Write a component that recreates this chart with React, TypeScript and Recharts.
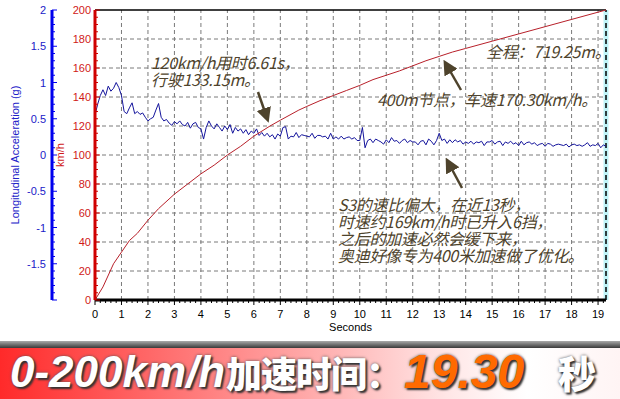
import React from "react";
import { ComposedChart, Line, XAxis, YAxis, ReferenceLine } from "recharts";

// speed trace (km/h)
const speedSeconds = [
  0, 0.3, 0.7, 1.0, 1.3, 1.6, 2.0, 2.4, 3.0, 3.5, 4.0, 4.5, 5.0, 5.5, 6.0, 6.61,
  7.0, 7.7, 8.0, 8.5, 9.0, 9.5, 10, 10.5, 11, 11.5, 12, 12.5, 13, 13.5, 14, 15,
  16, 17, 18, 19, 19.3,
];
const speedKmh = [
  0, 9, 25, 33, 41, 46, 55, 63, 73, 80, 87, 93, 100, 106, 113, 120,
  124, 131, 133.5, 137.5, 141, 144.5, 148, 152, 155, 158, 161.5, 165, 168, 171, 173.5, 178.5,
  183.5, 188.5, 193.5, 198.5, 200,
];

// longitudinal acceleration (g), one reading every 0.1 s
const accelStep = 0.1;
const accelG = [
  0.55, 0.7, 0.82, 0.9, 0.82, 0.95, 0.88, 0.92, 1.0, 0.93,
  0.82, 0.6, 0.57, 0.65, 0.72, 0.57, 0.6, 0.56, 0.58, 0.52,
  0.47, 0.5, 0.52, 0.62, 0.71, 0.52, 0.47, 0.49, 0.44, 0.41,
  0.46, 0.43, 0.47, 0.42, 0.4, 0.45, 0.37, 0.43, 0.45, 0.38,
  0.36, 0.22, 0.38, 0.47, 0.4, 0.36, 0.43, 0.38, 0.33, 0.4,
  0.35, 0.42, 0.3, 0.38, 0.33, 0.36, 0.3, 0.35, 0.28, 0.33,
  0.3, 0.36, 0.27, 0.31, 0.26, 0.3, 0.25, 0.28, 0.22, 0.29,
  0.26, 0.38, 0.39, 0.22, 0.26, 0.25, 0.31, 0.24, 0.28, 0.27,
  0.26, 0.25, 0.3, 0.23, 0.27, 0.27, 0.25, 0.26, 0.22, 0.3,
  0.22, 0.25, 0.22, 0.26, 0.22, 0.24, 0.25, 0.22, 0.24, 0.2,
  0.2, 0.38, 0.1, 0.2, 0.22, 0.17, 0.22, 0.2, 0.18, 0.15,
  0.21, 0.17, 0.24, 0.19, 0.2, 0.16, 0.2, 0.22, 0.17, 0.2,
  0.18, 0.18, 0.14, 0.19, 0.2, 0.14, 0.22, 0.19, 0.14, 0.2,
  0.3, 0.2, 0.22, 0.16, 0.21, 0.17, 0.21, 0.18, 0.2, 0.15,
  0.18, 0.16, 0.19, 0.15, 0.18, 0.17, 0.19, 0.13, 0.18, 0.18,
  0.2, 0.15, 0.18, 0.19, 0.13, 0.18, 0.16, 0.19, 0.15, 0.17,
  0.13, 0.19, 0.14, 0.17, 0.18, 0.15, 0.17, 0.13, 0.15, 0.16,
  0.12, 0.16, 0.15, 0.12, 0.14, 0.15, 0.14, 0.13, 0.15, 0.11,
  0.14, 0.15, 0.13, 0.14, 0.12, 0.14, 0.17, 0.12, 0.14, 0.13,
  0.16, 0.1, 0.14, 0.12,
];

const secondTicks = [0, 1, 2, 3, 4, 5, 6, 7, 8, 9, 10, 11, 12, 13, 14, 15, 16, 17, 18, 19];
const kmhTicks = [0, 20, 40, 60, 80, 100, 120, 140, 160, 180, 200];
const gTicks = [-2, -1.5, -1, -0.5, 0, 0.5, 1, 1.5, 2];
const maxSeconds = 19.3;

const speedData = speedSeconds.map((t, i) => ({ t, kmh: speedKmh[i] }));
const accelData = accelG.map((g, i) => ({ t: +(i * accelStep).toFixed(1), g }));

// minor tick positions (axis decoration only)
const minorSeconds = Array.from({ length: 97 }, (_, i) => +(i * 0.2).toFixed(1));
const minorKmh = Array.from({ length: 41 }, (_, i) => i * 5);
const minorG = Array.from({ length: 41 }, (_, i) => +(-2 + i * 0.1).toFixed(1));

// axis ids sort in stacking order: first one sits next to the plot
const KMH = "a_kmh";
const ACC = "b_g";

const tickFont = "'Liberation Sans', Arial, sans-serif";
const noteFont = "'Noto Sans CJK SC', sans-serif";
const noteColor = "#4e432c";

const near = (a: number, b: number) => Math.abs(a - b) < 0.001;

const SecondTick = ({ x, y, payload }: any) => {
  const v = payload.value;
  const major = secondTicks.some((s) => near(s, v));
  return (
    <g>
      <line x1={x} x2={x} y1={y} y2={y + (major ? 5 : 3)} stroke="#000" />
      {major && (
        <text x={x} y={y + 18} textAnchor="middle" fontSize={11} fontFamily={tickFont} fill="#000">
          {Math.round(v)}
        </text>
      )}
    </g>
  );
};

const KmhTick = ({ x, y, payload }: any) => {
  const v = payload.value;
  const major = kmhTicks.includes(v);
  return (
    <g>
      <line x1={x} x2={x + (major ? 5 : 3)} y1={y} y2={y} stroke="#cc0000" />
      {major && (
        <text x={x - 4} y={y + 4} textAnchor="end" fontSize={11} fontFamily={tickFont} fill="#d01818">
          {v}
        </text>
      )}
    </g>
  );
};

const GTick = ({ x, y, payload }: any) => {
  const v = payload.value;
  const major = gTicks.some((s) => near(s, v));
  const showLabel = major && !near(v, -2);
  return (
    <g>
      <line x1={x} x2={x + (major ? 5 : 3)} y1={y} y2={y} stroke="#0000ee" />
      {showLabel && (
        <text x={x - 6} y={y + 4} textAnchor="end" fontSize={11} fontFamily={tickFont} fill="#2020c8">
          {v}
        </text>
      )}
    </g>
  );
};

const Arrow = ({ x1, y1, x2, y2 }: { x1: number; y1: number; x2: number; y2: number }) => (
  <line x1={x1} y1={y1} x2={x2} y2={y2} stroke={noteColor} strokeWidth={2.5} markerEnd="url(#arrowHead)" />
);

const noteStyle: React.CSSProperties = {
  position: "absolute",
  fontFamily: noteFont,
  fontStyle: "italic",
  fontSize: 16,
  lineHeight: "17px",
  color: noteColor,
  whiteSpace: "pre",
  letterSpacing: -0.3,
};

const bannerLatin: React.CSSProperties = {
  position: "absolute",
  top: 344,
  fontFamily: tickFont,
  fontWeight: 700,
  fontStyle: "italic",
  fontSize: 44,
  lineHeight: "56px",
  textShadow: "2px 2px 2px #333, 0 0 3px #555",
  whiteSpace: "pre",
};

const bannerCjk: React.CSSProperties = {
  position: "absolute",
  top: 346,
  fontFamily: noteFont,
  fontWeight: 900,
  fontSize: 36,
  lineHeight: "52px",
  letterSpacing: -1,
  color: "#fff",
  textShadow: "2px 2px 2px #333, 0 0 3px #555",
  whiteSpace: "pre",
};

export default function App() {
  return (
    <div style={{ position: "absolute", left: 0, top: 0, width: 620, height: 399, background: "#fff", overflow: "hidden" }}>
      <ComposedChart width={620} height={340} margin={{ top: 10, right: 14, bottom: 4, left: 0 }}>
        <XAxis
          dataKey="t"
          type="number"
          domain={[0, maxSeconds]}
          ticks={minorSeconds}
          interval={0}
          tick={<SecondTick />}
          tickLine={false}
          tickSize={0}
          tickMargin={0}
          height={36}
          axisLine={{ stroke: "#000", strokeWidth: 3 }}
          allowDataOverflow
          label={{
            value: "Seconds",
            content: ({ viewBox }: any) => (
              <text
                x={viewBox.x + viewBox.width / 2}
                y={viewBox.y + 31}
                textAnchor="middle"
                fontSize={11}
                fontFamily={tickFont}
                fill="#000"
              >
                Seconds
              </text>
            ),
          }}
        />
        <YAxis
          yAxisId={KMH}
          type="number"
          domain={[0, 200]}
          ticks={minorKmh}
          interval={0}
          tick={<KmhTick />}
          tickLine={false}
          tickSize={0}
          tickMargin={0}
          width={43}
          axisLine={{ stroke: "#d00000", strokeWidth: 3 }}
          label={{
            value: "km/h",
            content: ({ viewBox }: any) => (
              <text
                transform={`rotate(-90 ${viewBox.x + 12} ${viewBox.y + viewBox.height / 2})`}
                x={viewBox.x + 12}
                y={viewBox.y + viewBox.height / 2}
                textAnchor="middle"
                fontSize={11}
                fontFamily={tickFont}
                fill="#d01818"
              >
                km/h
              </text>
            ),
          }}
        />
        <YAxis
          yAxisId={ACC}
          type="number"
          domain={[-2, 2]}
          ticks={minorG}
          interval={0}
          tick={<GTick />}
          tickLine={false}
          tickSize={0}
          tickMargin={0}
          width={52}
          axisLine={{ stroke: "#0000ee", strokeWidth: 3 }}
          label={{
            value: "Longitudinal Acceleration (g)",
            content: ({ viewBox }: any) => (
              <text
                transform={`rotate(-90 ${viewBox.x + 19} ${viewBox.y + viewBox.height / 2})`}
                x={viewBox.x + 19}
                y={viewBox.y + viewBox.height / 2}
                textAnchor="middle"
                fontSize={11}
                fontFamily={tickFont}
                fill="#2020c8"
              >
                Longitudinal Acceleration (g)
              </text>
            ),
          }}
        />
        {kmhTicks.slice(1, -1).map((v) => (
          <ReferenceLine key={`h${v}`} yAxisId={KMH} y={v} stroke="#7a7a7a" strokeDasharray="4 3" />
        ))}
        {secondTicks.slice(1).map((s) => (
          <ReferenceLine key={`v${s}`} yAxisId={KMH} x={s} stroke="#7a7a7a" strokeDasharray="4 3" />
        ))}
        <ReferenceLine yAxisId={KMH} y={200} stroke="#000" strokeWidth={1.5} />
        <ReferenceLine yAxisId={KMH} x={maxSeconds} stroke="#bff4f8" strokeWidth={5} />
        <ReferenceLine yAxisId={KMH} x={maxSeconds} stroke="#000" strokeWidth={1.5} strokeDasharray="5 3" />
        <Line
          yAxisId={ACC}
          data={accelData}
          dataKey="g"
          type="linear"
          stroke="#14149c"
          strokeWidth={1}
          dot={false}
          isAnimationActive={false}
        />
        <Line
          yAxisId={KMH}
          data={speedData}
          dataKey="kmh"
          type="linear"
          stroke="#b8202a"
          strokeWidth={1}
          dot={false}
          isAnimationActive={false}
        />
      </ComposedChart>

      {/* annotations */}
      <svg width={620} height={340} style={{ position: "absolute", left: 0, top: 0, pointerEvents: "none" }}>
        <defs>
          <marker id="arrowHead" markerWidth="6" markerHeight="6" refX="4" refY="3" orient="auto" markerUnits="strokeWidth">
            <path d="M0,0 L6,3 L0,6 Z" fill={noteColor} />
          </marker>
        </defs>
        <Arrow x1={258} y1={92} x2={267} y2={118} />
        <Arrow x1={461} y1={90} x2={446} y2={64} />
        <Arrow x1={462} y1={188} x2={448} y2={162} />
      </svg>
      <div style={{ ...noteStyle, left: 151, top: 54 }}>{"120km/h用时6.61s，\n行驶133.15m。"}</div>
      <div style={{ ...noteStyle, left: 486, top: 43 }}>{"全程：719.25m。"}</div>
      <div style={{ ...noteStyle, left: 377, top: 91 }}>{"400m节点，车速170.30km/h。"}</div>
      <div style={{ ...noteStyle, left: 338, top: 196, lineHeight: "17px" }}>
        {"S3的速比偏大，在近13秒，\n时速约169km/h时已升入6挡，\n之后的加速必然会缓下来，\n奥迪好像专为400米加速做了优化。"}
      </div>

      {/* title banner */}
      <div style={{ position: "absolute", left: 0, top: 341, width: 620, height: 7, background: "linear-gradient(#aaa, #3a3a3a)" }} />
      <div
        style={{
          position: "absolute",
          left: 0,
          top: 348,
          width: 620,
          height: 51,
          background: "linear-gradient(90deg, #ff2a2a 0%, #ff6a6a 25%, #ffaaaa 50%, #ffe6e6 72%, #ffffff 85%, #fff4f4 100%)",
        }}
      />
      <div style={{ ...bannerLatin, left: 10, color: "#fff" }}>0-200km/h</div>
      <div style={{ ...bannerCjk, left: 226 }}>加速时间：</div>
      <div style={{ ...bannerLatin, left: 404, color: "#ff6a00", fontSize: 48 }}>19.30</div>
      <div style={{ ...bannerCjk, left: 558, fontSize: 38 }}>秒</div>
    </div>
  );
}
